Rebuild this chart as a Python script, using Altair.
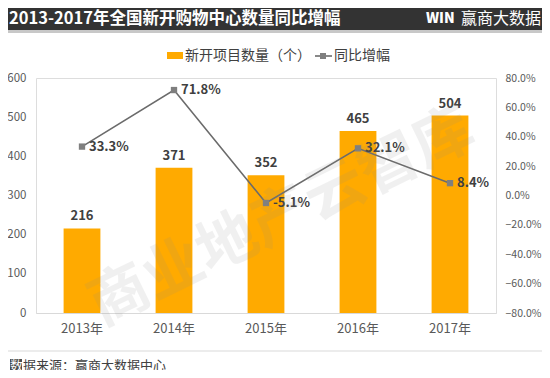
import altair as alt
import pandas as pd

years = ["2013年", "2014年", "2015年", "2016年", "2017年"]
counts = [216, 371, 352, 465, 504]
growth = [0.333, 0.718, -0.051, 0.321, 0.084]
growth_labels = ["33.3%", "71.8%", "-5.1%", "32.1%", "8.4%"]
left_ticks = [0, 100, 200, 300, 400, 500, 600]
right_ticks = [-0.8, -0.6, -0.4, -0.2, 0, 0.2, 0.4, 0.6, 0.8]

df = pd.DataFrame({"year": years, "count": counts, "growth": growth, "glabel": growth_labels})

FONT = "Noto Sans CJK SC"
ORANGE = "#FFAA00"
LINE = "#6b6b6b"

xenc = alt.X("year:N", sort=years,
             scale=alt.Scale(paddingInner=0.6, paddingOuter=0.3),
             axis=alt.Axis(title=None, labelAngle=0, ticks=False, domainColor="#d9d9d9",
                           labelColor="#595959", labelFontSize=13, labelPadding=9,
                           labelFont=FONT, grid=False))

yleft = alt.Y("count:Q", scale=alt.Scale(domain=[0, 600], nice=False, zero=True),
              axis=alt.Axis(title=None, orient="left", values=left_ticks, tickCount=7,
                            ticks=False, domain=False, grid=False, labelColor="#595959",
                            labelFontSize=11.5, labelPadding=10, labelFont=FONT,
                            labelOverlap=False, labelBound=False))
yright = alt.Y("growth:Q", scale=alt.Scale(domain=[-0.8, 0.8], nice=False, zero=False),
               axis=alt.Axis(title=None, orient="right", format=".1%", values=right_ticks,
                             tickCount=9,
                             ticks=False, domain=False, grid=False, labelColor="#595959",
                             labelFontSize=10.5, labelPadding=9, labelFont=FONT,
                             labelOverlap=False, labelBound=False))

base = alt.Chart(df)
bars = base.mark_bar(color=ORANGE).encode(x=xenc, y=yleft)
bar_text = base.mark_text(dy=-12, font=FONT, fontSize=13, fontWeight="bold", color="#404040").encode(
    x=xenc, y=yleft, text="count:Q")

line = base.mark_line(color=LINE, strokeWidth=1.6).encode(x=xenc, y=yright)
pts = base.mark_point(shape="square", filled=True, color="#7f7f7f", size=40, opacity=1).encode(
    x=xenc, y=yright)
pct_text = base.mark_text(align="left", dx=7, font=FONT, fontSize=13, fontWeight="bold", color="#404040").encode(
    x=xenc, y=yright, text="glabel:N")

left_layer = alt.layer(bars, bar_text)
right_layer = alt.layer(line, pts, pct_text)


def one():
    return alt.Data(values=[{}])


def rect(x, x2, y, y2, color):
    return alt.Chart(one()).mark_rect(color=color).encode(
        x=alt.value(x), x2=alt.value(x2), y=alt.value(y), y2=alt.value(y2))


def text(t, x, y, size, color, weight="normal", align="left", **kw):
    return alt.Chart(one()).mark_text(text=t, font=FONT, fontSize=size, color=color,
                                      fontWeight=weight, align=align, baseline="middle", **kw).encode(
        x=alt.value(x), y=alt.value(y))


deco = [
    rect(-40, 520, -80, -48, "#333333"),
    rect(-40, 520, -48, -45, "#c8c8c8"),
    text("2013-2017年全国新开购物中心数量同比增幅", -27, -59.5, 16.5, "white", "bold"),
    text("WIN", 390, -59.5, 14, "white", 900, "left"),
    text("赢商大数据", 505, -59.5, 16, "white", "normal", "right"),
    rect(131, 147, -26, -19, ORANGE),
    text("新开项目数量（个）", 149, -22, 14, "#404040"),
    alt.Chart(one()).mark_rule(color=LINE, strokeWidth=1.6).encode(
        x=alt.value(279), x2=alt.value(296), y=alt.value(-22)),
    rect(284, 290, -25, -19, "#7f7f7f"),
    text("同比增幅", 298, -22, 14, "#404040"),
    rect(-40, 520, 272.5, 273.5, "#d9d9d9"),
    rect(-26, -14, 281, 294, "#4d4d4d"),
    text("数", -26, 287.5, 13, "white"),
    text("据来源：赢商大数据中心", -13, 287.5, 13, "#404040"),
    text("商业地产云智库", 246, 140, 60, "#8c8c8c", "bold", "center", angle=334, opacity=0.12),
]

chart = alt.layer(left_layer, right_layer, *deco).resolve_scale(y="independent").properties(
    width=460, height=235,
    autosize=alt.AutoSizeParams(type="none"),
    padding={"left": 28, "top": 70, "right": 46, "bottom": 57},
).configure_view(stroke=None).configure(background="white")

chart.save("out.html", embed_options={"renderer": "svg", "actions": False})
